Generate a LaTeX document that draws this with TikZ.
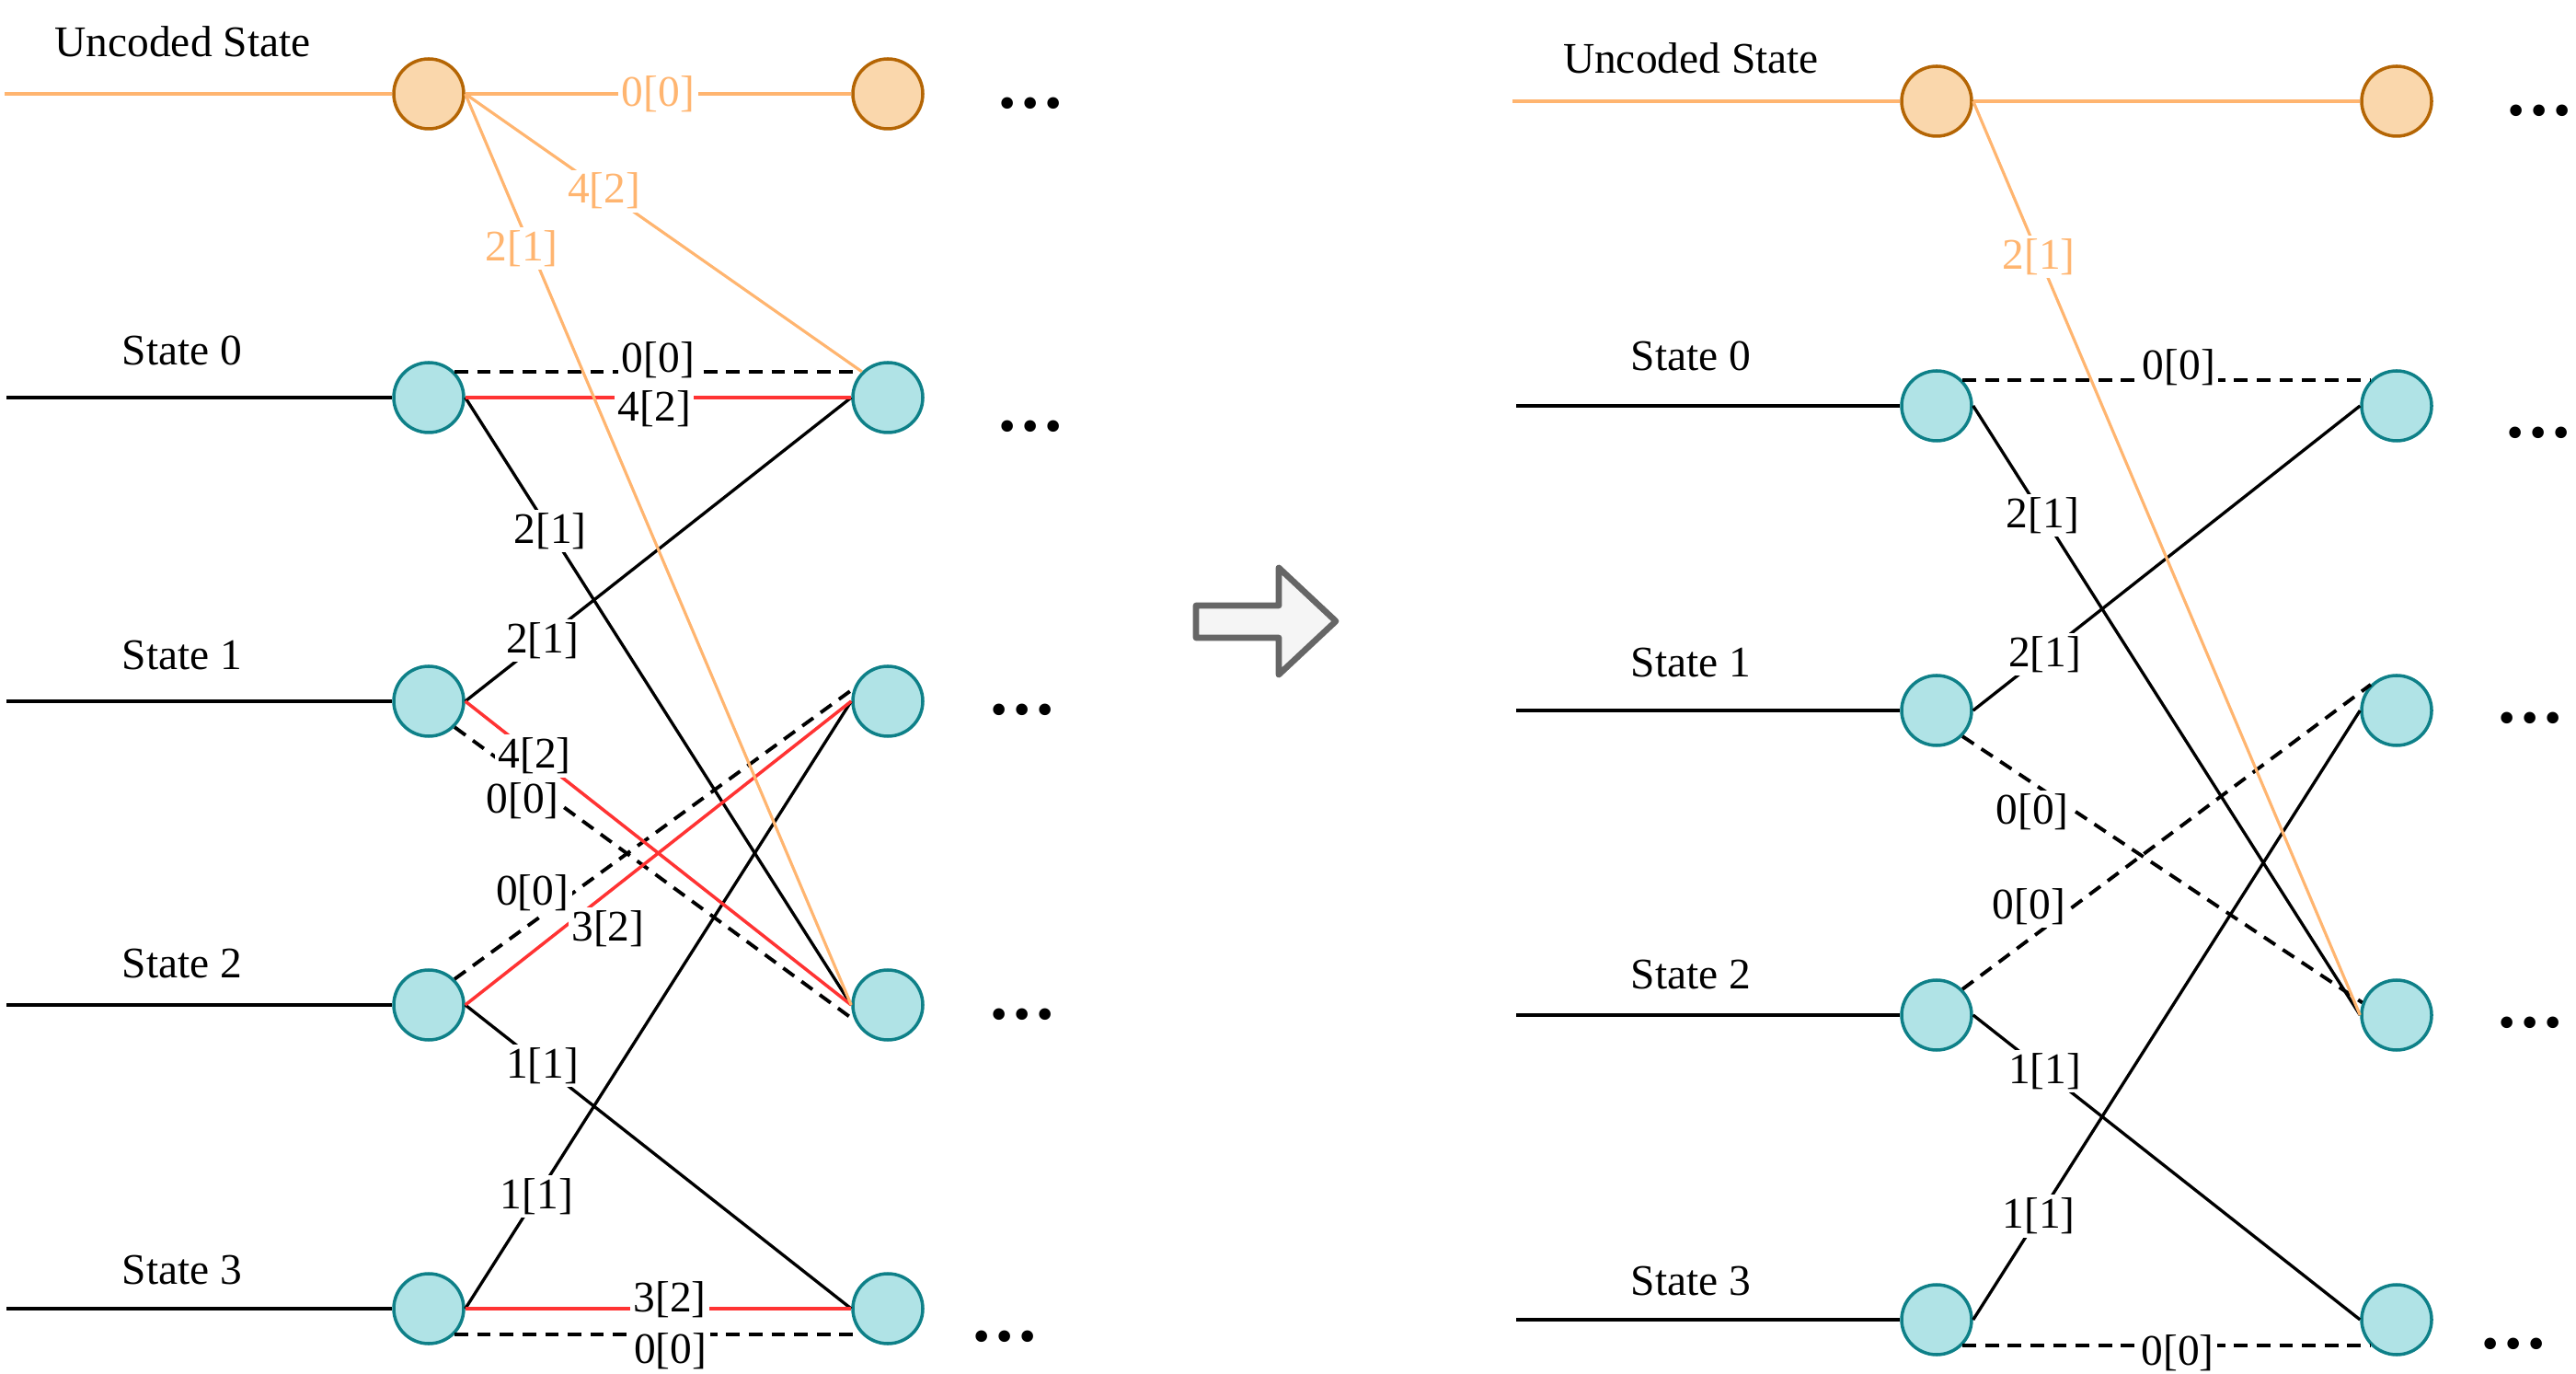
\documentclass[tikz,border=0pt]{standalone}
\usepackage{fontspec}
\setmainfont{Liberation Serif}
\definecolor{tealfill}{HTML}{B0E3E6}
\definecolor{tealdraw}{HTML}{0E8088}
\definecolor{peachfill}{HTML}{FAD7AC}
\definecolor{peachdraw}{HTML}{B46504}
\definecolor{peachline}{HTML}{FFB570}
\definecolor{codedred}{HTML}{FF3333}
\definecolor{greydraw}{HTML}{666666}
\definecolor{greyfill}{HTML}{F5F5F5}
\newcommand{\trdots}{{\fontsize{22}{22}\selectfont\bfseries .\kern1.6pt.\kern1.6pt.}}
\tikzset{
    statenode/.style={circle, draw=tealdraw, fill=tealfill, line width=1pt,
        minimum size=.76cm, inner sep=0pt},
    uncnode/.style={statenode, draw=peachdraw, fill=peachfill},
    leadline/.style={line width=1.15pt},
    transline/.style={line width=.95pt},
    codedline/.style={codedred, line width=1pt},
    zeroline/.style={line width=1.1pt, dash pattern=on 4.2pt off 2.8pt},
    uncline/.style={peachline, line width=.9pt},
    lbl/.style={fill=white, inner sep=1pt},
    unclbl/.style={lbl, text=peachline},
}
\begin{document}
\begin{tikzpicture}[font=\fontsize{13.5}{16}\selectfont]
    \useasboundingbox (0, 0) rectangle (28, 14.92);
    % left trellis
    \coordinate (inu) at (0.05, 13.90);
    \node[uncnode] (ua) at (4.66, 13.90) {};
    \node[uncnode] (ub) at (9.65, 13.90) {};
    \draw[uncline, line width=1.15pt] (inu) -- (ua);
    \node[anchor=base] (nameu) at (1.985, 14.30) {Uncoded State};
    \node (dotsu) at (11.20, 13.80) {\trdots};
    \foreach \i/\y/\t/\dx/\dy in {0/10.60/10.95/11.20/10.29,
            1/7.30/7.64/11.11/7.21, 2/4.00/4.29/11.11/3.90,
            3/0.70/0.97/10.92/0.40} {
        \coordinate (in\i) at (0.07, \y);
        \node[statenode] (a\i) at (4.66, \y) {};
        \node[statenode] (b\i) at (9.65, \y) {};
        \draw[leadline] (in\i) -- (a\i);
        \node[anchor=base] (name\i) at (1.98, \t) {State \i};
        \node (dots\i) at (\dx, \dy) {\trdots};
    }
    \draw[zeroline] (a0.45) -- (b0.135)
        node[lbl, pos=.5, yshift=1.3mm] (z0) {0[0]};
    \draw[zeroline] (a1.-45) -- (b2.205)
        node[lbl, pos=.17, yshift=-2.6mm] (z1) {0[0]};
    \draw[zeroline] (a2.45) -- (b1.160)
        node[lbl, pos=.195, yshift=3.2mm] (z2) {0[0]};
    \draw[zeroline] (a3.-45) -- (b3.-135)
        node[lbl, pos=.53, yshift=-1.8mm] (z3) {0[0]};
    \draw[transline] (a0.east) -- (b2.west) node[lbl, pos=.22] (t0) {2[1]};
    \draw[transline] (a1.east) -- (b0.west) node[lbl, pos=.2] (t1) {2[1]};
    \draw[transline] (a2.east) -- (b3.west) node[lbl, pos=.2] (t2) {1[1]};
    \draw[transline] (a3.east) -- (b1.west) node[lbl, pos=.185] (t3) {1[1]};
    \draw[codedline] (a0.east) -- (b0.west)
        node[lbl, text=black, pos=.49, yshift=-1.2mm] (c0) {4[2]};
    \draw[codedline] (a1.east) -- (b2.west)
        node[lbl, text=black, pos=.18] (c1) {4[2]};
    \draw[codedline] (a2.east) -- (b1.west)
        node[lbl, text=black, pos=.37, yshift=-3.9mm] (c2) {3[2]};
    \draw[codedline] (a3.east) -- (b3.west)
        node[lbl, text=black, pos=.53, yshift=1mm] (c3) {3[2]};
    \draw[uncline, line width=1.15pt] (ua.east) -- (ub.west)
        node[unclbl, pos=.5] (u0) {0[0]};
    \draw[uncline] (ua.east) -- (b0.135) node[unclbl, pos=.35] (u1) {4[2]};
    \draw[uncline] (ua.east) -- (b2.west)
        node[unclbl, pos=.17, xshift=-1mm] (u2) {2[1]};

    % arrow between the two trellises
    \draw[draw=greydraw, fill=greyfill, line width=1.9pt, line join=round]
        (13.0, 7.99) -- (13.0, 8.34) -- (13.90, 8.34) -- (13.90, 8.75)
        -- (14.52, 8.17) -- (13.90, 7.59) -- (13.90, 7.99) -- cycle;

    % right trellis
    \coordinate (rinu) at (16.44, 13.82);
    \node[uncnode] (rua) at (21.05, 13.82) {};
    \node[uncnode] (rub) at (26.05, 13.82) {};
    \draw[uncline, line width=1.15pt] (rinu) -- (rua);
    \node[anchor=base] (rnameu) at (18.38, 14.12) {Uncoded State};
    \node (rdotsu) at (27.60, 13.72) {\trdots};
    \foreach \i/\y/\t/\dx/\dy in {0/10.51/10.89/27.59/10.22,
            1/7.20/7.56/27.50/7.12, 2/3.89/4.18/27.50/3.81,
            3/0.58/0.85/27.32/0.32} {
        \coordinate (rin\i) at (16.48, \y);
        \node[statenode] (ra\i) at (21.05, \y) {};
        \node[statenode] (rb\i) at (26.05, \y) {};
        \draw[leadline] (rin\i) -- (ra\i);
        \node[anchor=base] (rname\i) at (18.38, \t) {State \i};
        \node (rdots\i) at (\dx, \dy) {\trdots};
    }
    \draw[zeroline] (ra0.45) -- (rb0.135)
        node[lbl, pos=.53, yshift=1.4mm] (rz0) {0[0]};
    \draw[zeroline] (ra1.-45) -- (rb2.160)
        node[lbl, pos=.175, yshift=-3.1mm] (rz1) {0[0]};
    \draw[zeroline] (ra2.45) -- (rb1.135)
        node[lbl, pos=.163, yshift=3.6mm] (rz2) {0[0]};
    \draw[zeroline] (ra3.-45) -- (rb3.-135)
        node[lbl, pos=.527, yshift=-.8mm] (rz3) {0[0]};
    \draw[transline] (ra0.east) -- (rb2.west) node[lbl, pos=.18] (rt0) {2[1]};
    \draw[transline] (ra1.east) -- (rb0.west) node[lbl, pos=.185] (rt1) {2[1]};
    \draw[transline] (ra2.east) -- (rb3.west) node[lbl, pos=.185] (rt2) {1[1]};
    \draw[transline] (ra3.east) -- (rb1.west) node[lbl, pos=.17] (rt3) {1[1]};
    \draw[uncline, line width=1.15pt] (rua.east) -- (rub.west);
    \draw[uncline] (rua.east) -- (rb2.west) node[unclbl, pos=.17] (ru2) {2[1]};
\end{tikzpicture}
\end{document}
